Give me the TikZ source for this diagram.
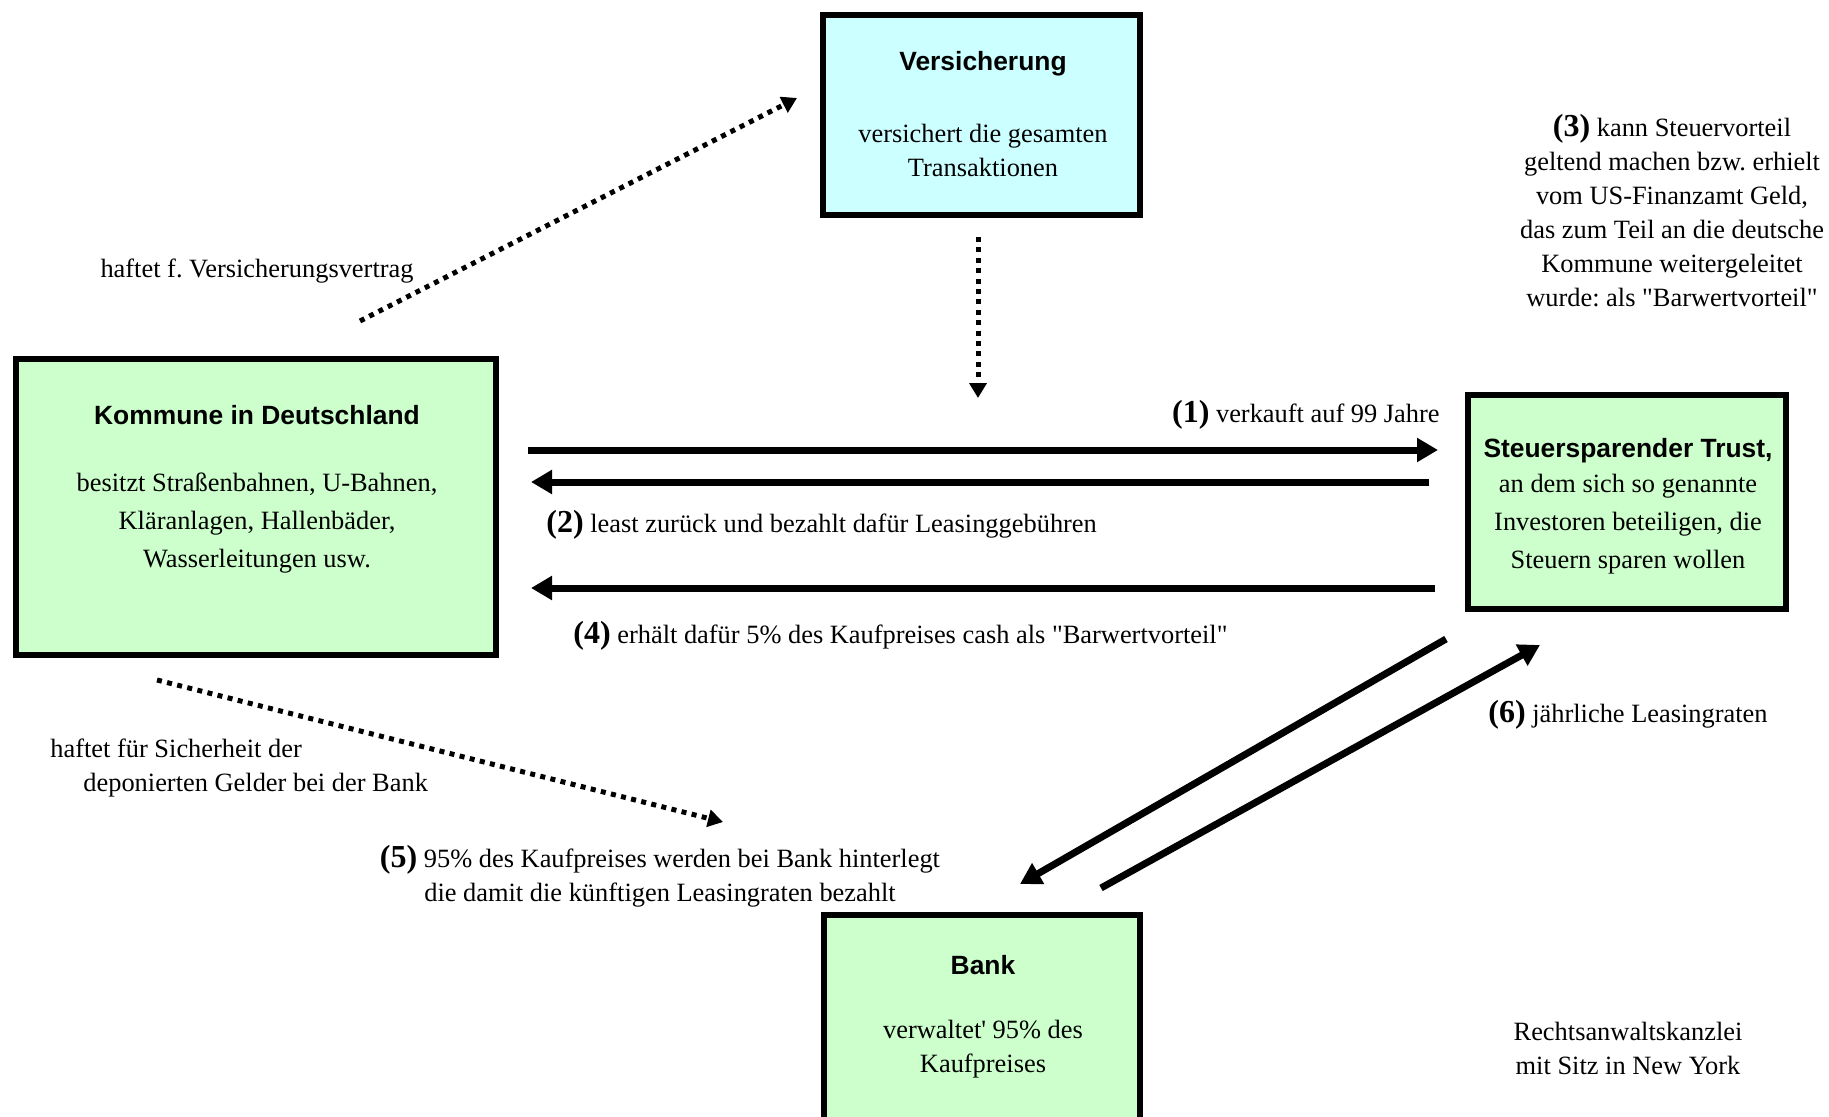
\documentclass[tikz,border=0pt]{standalone}
\usepackage{fontspec}
\setmainfont{Liberation Serif}
\newfontfamily\headfont{Liberation Sans}
\usetikzlibrary{arrows.meta}
\definecolor{mintfill}{HTML}{CCFFCC}
\definecolor{icefill}{HTML}{CCFFFF}
\newcommand\stepno[1]{{\fontsize{16pt}{16pt}\selectfont\bfseries(#1)}}
\frenchspacing
\begin{document}
\begin{tikzpicture}[
    x=0.5pt, y=-0.5pt,
    partybox/.style={draw=black, line width=3pt, fill=mintfill, inner sep=0pt},
    boxtitle/.style={font=\headfont\bfseries\fontsize{13.2pt}{16pt}\selectfont, inner sep=0pt},
    boxtext/.style={align=center, font=\fontsize{13.2pt}{17pt}\selectfont, inner sep=0pt},
    boxtextwide/.style={boxtext, font=\fontsize{13.2pt}{19pt}\selectfont},
    notelbl/.style={align=center, font=\fontsize{13.2pt}{17pt}\selectfont, inner sep=0pt},
    flowarrow/.style={line width=3.5pt, -{Triangle[length=10.5pt,width=11.5pt]}},
    liabarrow/.style={line width=2.5pt, dash pattern=on 2.5pt off 2.7pt,
      -{Triangle[length=7.5pt,width=8.5pt]}}
  ]
  \useasboundingbox (0,0) rectangle (1829,1117);
  \fill[white] (0,0) rectangle (1829,1117);

  \node[partybox, fill=icefill, minimum width=158.5pt, minimum height=100pt] (vers) at (981.5,115) {};
  \node[partybox, minimum width=240pt, minimum height=148pt] (komm) at (256,507) {};
  \node[partybox, minimum width=159pt, minimum height=107pt] (trust) at (1627,502) {};
  \node[partybox, minimum width=158pt, minimum height=106pt] (bank) at (982,1021) {};

  \node[boxtitle] (versT) at (983,64) {Versicherung};
  \node[boxtext] (versB) at (983,150) {versichert die gesamten\\Transaktionen};
  \node[boxtitle] (kommT) at (257,415) {Kommune in Deutschland};
  \node[boxtextwide] (kommB) at (257,523) {besitzt Straßenbahnen, U-Bahnen,\\Kläranlagen, Hallenbäder,\\Wasserleitungen usw.};
  \node[boxtitle] (trustT) at (1628,451) {Steuersparender Trust,};
  \node[boxtextwide] (trustB) at (1628,524) {an dem sich so genannte\\Investoren beteiligen, die\\Steuern sparen wollen};
  \node[boxtitle] (bankT) at (983,965) {Bank};
  \node[boxtext] (bankB) at (983,1049) {verwaltet\textquotesingle{} 95\% des\\Kaufpreises};

  \node[notelbl] (versLbl) at (257,271) {haftet f. Versicherungsvertrag};
  \node[notelbl] (taxLbl) at (1672,211) {\stepno{3} kann Steuervorteil\\geltend machen bzw. erhielt\\vom US-Finanzamt Geld,\\das zum Teil an die deutsche\\Kommune weitergeleitet\\wurde: als \textquotedbl Barwertvorteil\textquotedbl};
  \node[notelbl, anchor=east] (sellLbl) at (1440,415) {\stepno{1} verkauft auf 99 Jahre};
  \node[notelbl, anchor=west] (leaseLbl) at (546,525) {\stepno{2} least zurück und bezahlt dafür Leasinggebühren};
  \node[notelbl, anchor=west] (cashLbl) at (573,636) {\stepno{4} erhält dafür 5\% des Kaufpreises cash als \textquotedbl Barwertvorteil\textquotedbl};
  \node[notelbl, anchor=west] (rateLbl) at (1488,715) {\stepno{6} jährliche Leasingraten};
  \node[notelbl, align=left, anchor=west] (safeLbl) at (50,768) {haftet für Sicherheit der\\\hspace*{16.5pt}deponierten Gelder bei der Bank};
  \node[notelbl] (depoLbl) at (660,876) {\stepno{5} 95\% des Kaufpreises werden bei Bank hinterlegt\\die damit die künftigen Leasingraten bezahlt};
  \node[notelbl] (lawLbl) at (1628,1048) {Rechtsanwaltskanzlei\\mit Sitz in New York};

  \coordinate (versEnd) at (978,398);
  \draw[flowarrow] ([xshift=14.5pt,yshift=28.5pt]komm.east) -- ([xshift=-13.5pt,yshift=26pt]trust.west);
  \draw[flowarrow] ([xshift=-18pt,yshift=10pt]trust.west) -- ([xshift=16pt,yshift=12.5pt]komm.east);
  \draw[flowarrow] ([xshift=-15pt,yshift=-43pt]trust.west) -- ([xshift=16pt,yshift=-40.5pt]komm.east);
  \draw[flowarrow] ([xshift=-9.5pt,yshift=-13.5pt]trust.south west) -- ([xshift=19pt,yshift=14pt]bank.north);
  \draw[flowarrow] ([xshift=59.5pt,yshift=12pt]bank.north) -- ([xshift=-43.5pt,yshift=-16.5pt]trust.south);
  \draw[liabarrow] ([xshift=52pt,yshift=17.5pt]komm.north) -- ([xshift=-11.5pt,yshift=8.5pt]vers.west);
  \draw[liabarrow] ([xshift=-49.5pt,yshift=-11pt]komm.south) -- ([xshift=-49pt,yshift=45pt]bank.north west);
  \draw[liabarrow] ([xshift=-1.75pt,yshift=-9.5pt]vers.south) -- (versEnd);
\end{tikzpicture}
\end{document}
